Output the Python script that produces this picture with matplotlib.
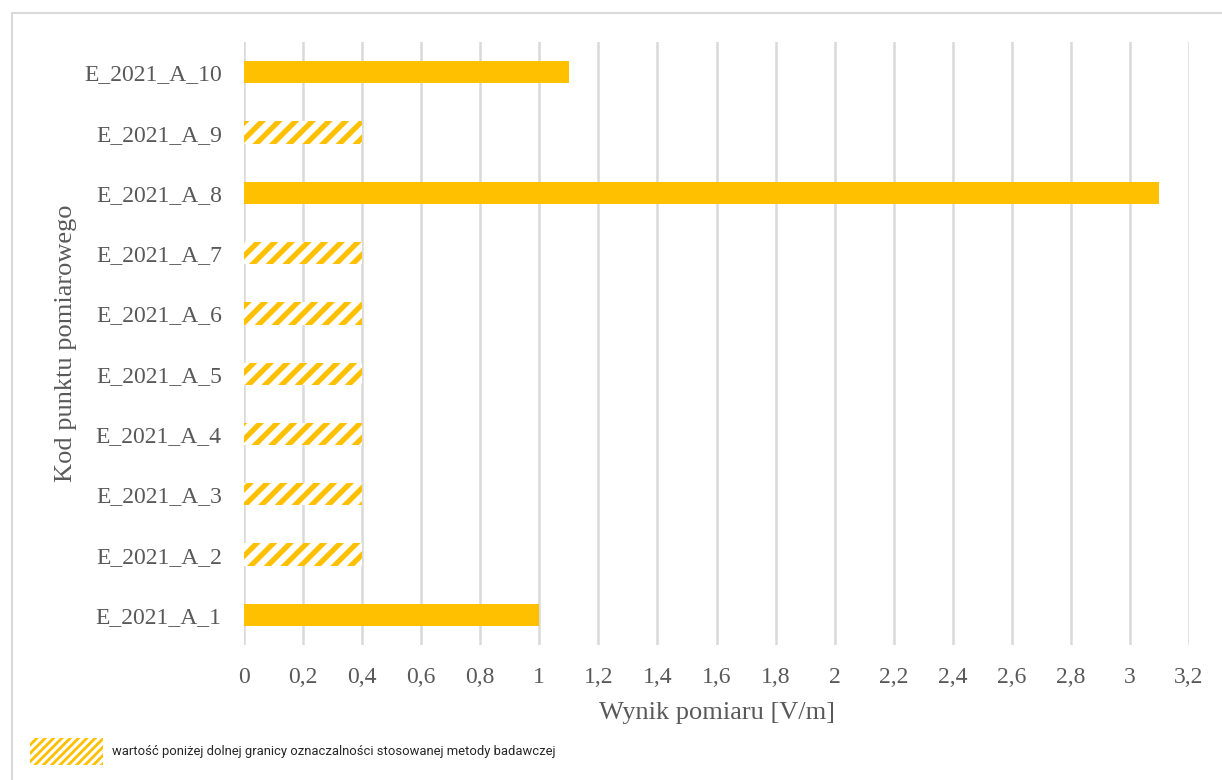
import numpy as np
import matplotlib.pyplot as plt
from matplotlib.patches import Rectangle
from matplotlib.lines import Line2D

# punkty pomiarowe i wyniki [V/m]
punkty = ['E_2021_A_1', 'E_2021_A_2', 'E_2021_A_3', 'E_2021_A_4', 'E_2021_A_5',
          'E_2021_A_6', 'E_2021_A_7', 'E_2021_A_8', 'E_2021_A_9', 'E_2021_A_10']
wyniki = [1.0, 0.4, 0.4, 0.4, 0.4, 0.4, 0.4, 3.1, 0.4, 1.1]
# wynik ponizej granicy oznaczalnosci -> slupek kreskowany
ponizej = [False, True, True, True, True, True, True, False, True, False]
x_ticks = [0, 0.2, 0.4, 0.6, 0.8, 1, 1.2, 1.4, 1.6, 1.8, 2, 2.2, 2.4, 2.6, 2.8, 3, 3.2]

zolty = '#FFC000'
szary = '#595959'

plt.rcParams['font.family'] = ['Liberation Serif', 'DejaVu Serif']
plt.rcParams['hatch.linewidth'] = 3.8

fig = plt.figure(figsize=(12.22, 7.8), dpi=100)
ax = fig.add_axes([0.1997, 0.173, 0.7733, 0.773])

y = np.arange(len(punkty))
for yi, w, p in zip(y, wyniki, ponizej):
    if p:
        ax.barh(yi, w, height=0.37, color='white', edgecolor=zolty,
                hatch='//', linewidth=0, zorder=3)
    else:
        ax.barh(yi, w, height=0.37, color=zolty, linewidth=0, zorder=3)

ax.set_xlim(0, 3.2)
ax.set_ylim(-0.5, 9.5)
ax.set_xticks(x_ticks)
ax.set_xticklabels([('%g' % v).replace('.', ',') for v in x_ticks])
ax.set_yticks(y)
ax.set_yticklabels(punkty)
ax.tick_params(axis='both', length=0, labelsize=17, colors=szary)
ax.tick_params(axis='x', pad=16)
ax.tick_params(axis='y', pad=16)
ax.grid(axis='x', color='#D9D9D9', linewidth=1.8, zorder=0)
for s in ax.spines.values():
    s.set_visible(False)

ax.set_xlabel('Wynik pomiaru [V/m]', fontsize=19, color=szary, labelpad=10)
ax.set_ylabel('Kod punktu pomiarowego', fontsize=19, color=szary, labelpad=5)

# ramka wykresu (gorna i lewa krawedz)
fig.add_artist(Line2D([12 / 1222, 1], [1 - 13 / 780, 1 - 13 / 780],
                      transform=fig.transFigure, color='#D9D9D9', linewidth=1.5))
fig.add_artist(Line2D([12 / 1222, 12 / 1222], [0, 1 - 13 / 780],
                      transform=fig.transFigure, color='#D9D9D9', linewidth=1.5))

# legenda - gestsze, ciensze kreski
plt.rcParams['hatch.linewidth'] = 2.0
fig.add_artist(Rectangle((30 / 1222, 1 - 765 / 780), 73 / 1222, 27 / 780,
                         transform=fig.transFigure, facecolor='white',
                         edgecolor=zolty, hatch='////', linewidth=0))
fig.text(112 / 1222, 1 - 751 / 780,
         'wartość poniżej dolnej granicy oznaczalności stosowanej metody badawczej',
         fontsize=9.4, color='#262626', va='center',
         family=['Roboto', 'DejaVu Sans'])

fig.savefig('out.png', dpi=100)
